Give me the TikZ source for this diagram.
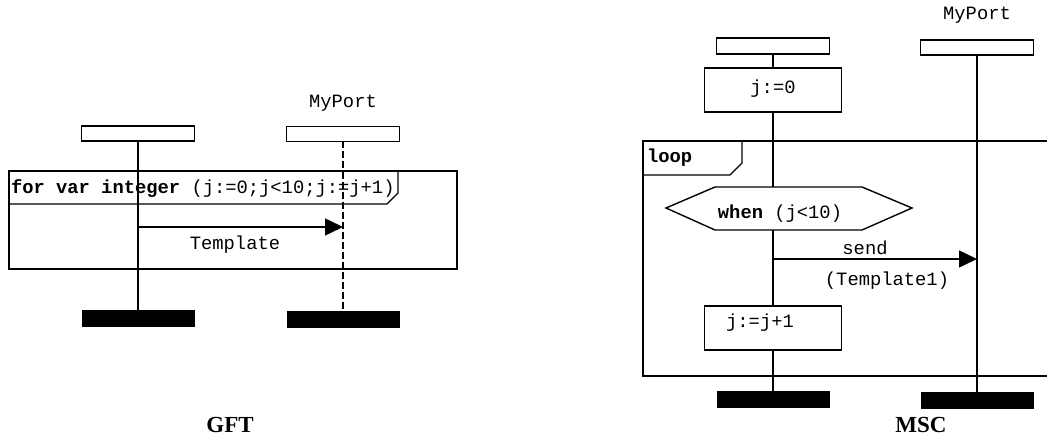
\documentclass[tikz,border=0pt]{standalone}
\usepackage{fontspec}
\setmainfont{Liberation Serif}
\setmonofont{Liberation Mono}
\usetikzlibrary{arrows.meta}
\begin{document}
\begin{tikzpicture}[x=1pt,y=-1pt,
  every node/.style={inner sep=0pt,outer sep=0pt},
  mono/.style={font=\fontsize{18.8}{22}\selectfont\ttfamily},
  headbox/.style={draw,line width=1.4pt,minimum width=113pt,minimum height=15pt,fill=white},
  endbar/.style={fill=black,minimum width=113pt,minimum height=17pt},
  actbox/.style={draw,line width=1.4pt,minimum width=137pt,minimum height=44pt},
  life/.style={line width=1.5pt},
  frm/.style={line width=1.4pt},
  msg/.style={line width=1.5pt,-{Triangle[length=18pt,width=17pt]}},
  captext/.style={font=\fontsize{23}{26}\selectfont\bfseries}]
\useasboundingbox (0,0) rectangle (1047,441);
% ---------------- GFT ----------------
\node[mono] (gport) at (343,103) {MyPort};
\node[headbox] (g1) at (138,133.5) {};
\node[headbox] (g2) at (343,134) {};
\node[endbar] (gb1) at (138,318.5) {};
\node[endbar] (gb2) at (343,319) {};
\draw[frm] (9,171) rectangle (457,269);
\draw[frm] (9,204) -- (387,204) -- (398,193) -- (398,171);
\node[mono,anchor=west] (gfor) at (11,189) {\textbf{for var integer} (j:=0;j<10;j:=j+1)};
\draw[life] (g1.south) -- (gb1.north);
\draw[life,dash pattern=on 7pt off 3pt] (g2.south) -- (gb2.north);
\coordinate (ga1) at (138,227);
\coordinate (ga2) at (343,227);
\draw[msg] (ga1) -- (ga2);
\node[mono] (gtpl) at (235,245) {Template};
\node[captext] (gft) at (230,425) {GFT};
% ---------------- MSC ----------------
\node[mono] (mport) at (977,15) {MyPort};
\node[headbox,minimum height=16pt] (m1) at (773,46) {};
\node[headbox] (m2) at (977,47.5) {};
\node[actbox] (j0) at (773,90) {};
\node[mono] (j0t) at (773,89) {j:=0};
\draw[frm] (1048,141) -- (643,141) -- (643,376) -- (1048,376);
\draw[frm] (742,141) -- (742,163) -- (730,175) -- (643,175);
\node[mono,anchor=west] (looplbl) at (647,158) {\textbf{loop}};
\draw[frm,fill=white] (666,208) -- (715,187) -- (862,187) -- (912,208) -- (862,230) -- (715,230) -- cycle;
\coordinate (hexT) at (773,187);
\coordinate (hexB) at (773,230);
\node[mono] (whent) at (780,214) {\textbf{when} (j<10)};
\node[actbox] (jj) at (773,328) {};
\node[mono] (jjt) at (760,323) {j:=j+1};
\node[endbar] (mb1) at (773,399.5) {};
\node[endbar] (mb2) at (977,400.5) {};
\draw[life] (m1.south) -- (j0.north);
\draw[life] (j0.south) -- (hexT);
\draw[life] (hexB) -- (jj.north);
\draw[life] (jj.south) -- (mb1.north);
\draw[life] (m2.south) -- (mb2.north);
\coordinate (ma1) at (773,259);
\coordinate (ma2) at (977,259);
\draw[msg] (ma1) -- (ma2);
\node[mono] (sendt) at (865,248) {send};
\node[mono] (tpl1) at (887,281) {(Template1)};
\node[captext] (msc) at (921,425) {MSC};
\end{tikzpicture}
\end{document}
